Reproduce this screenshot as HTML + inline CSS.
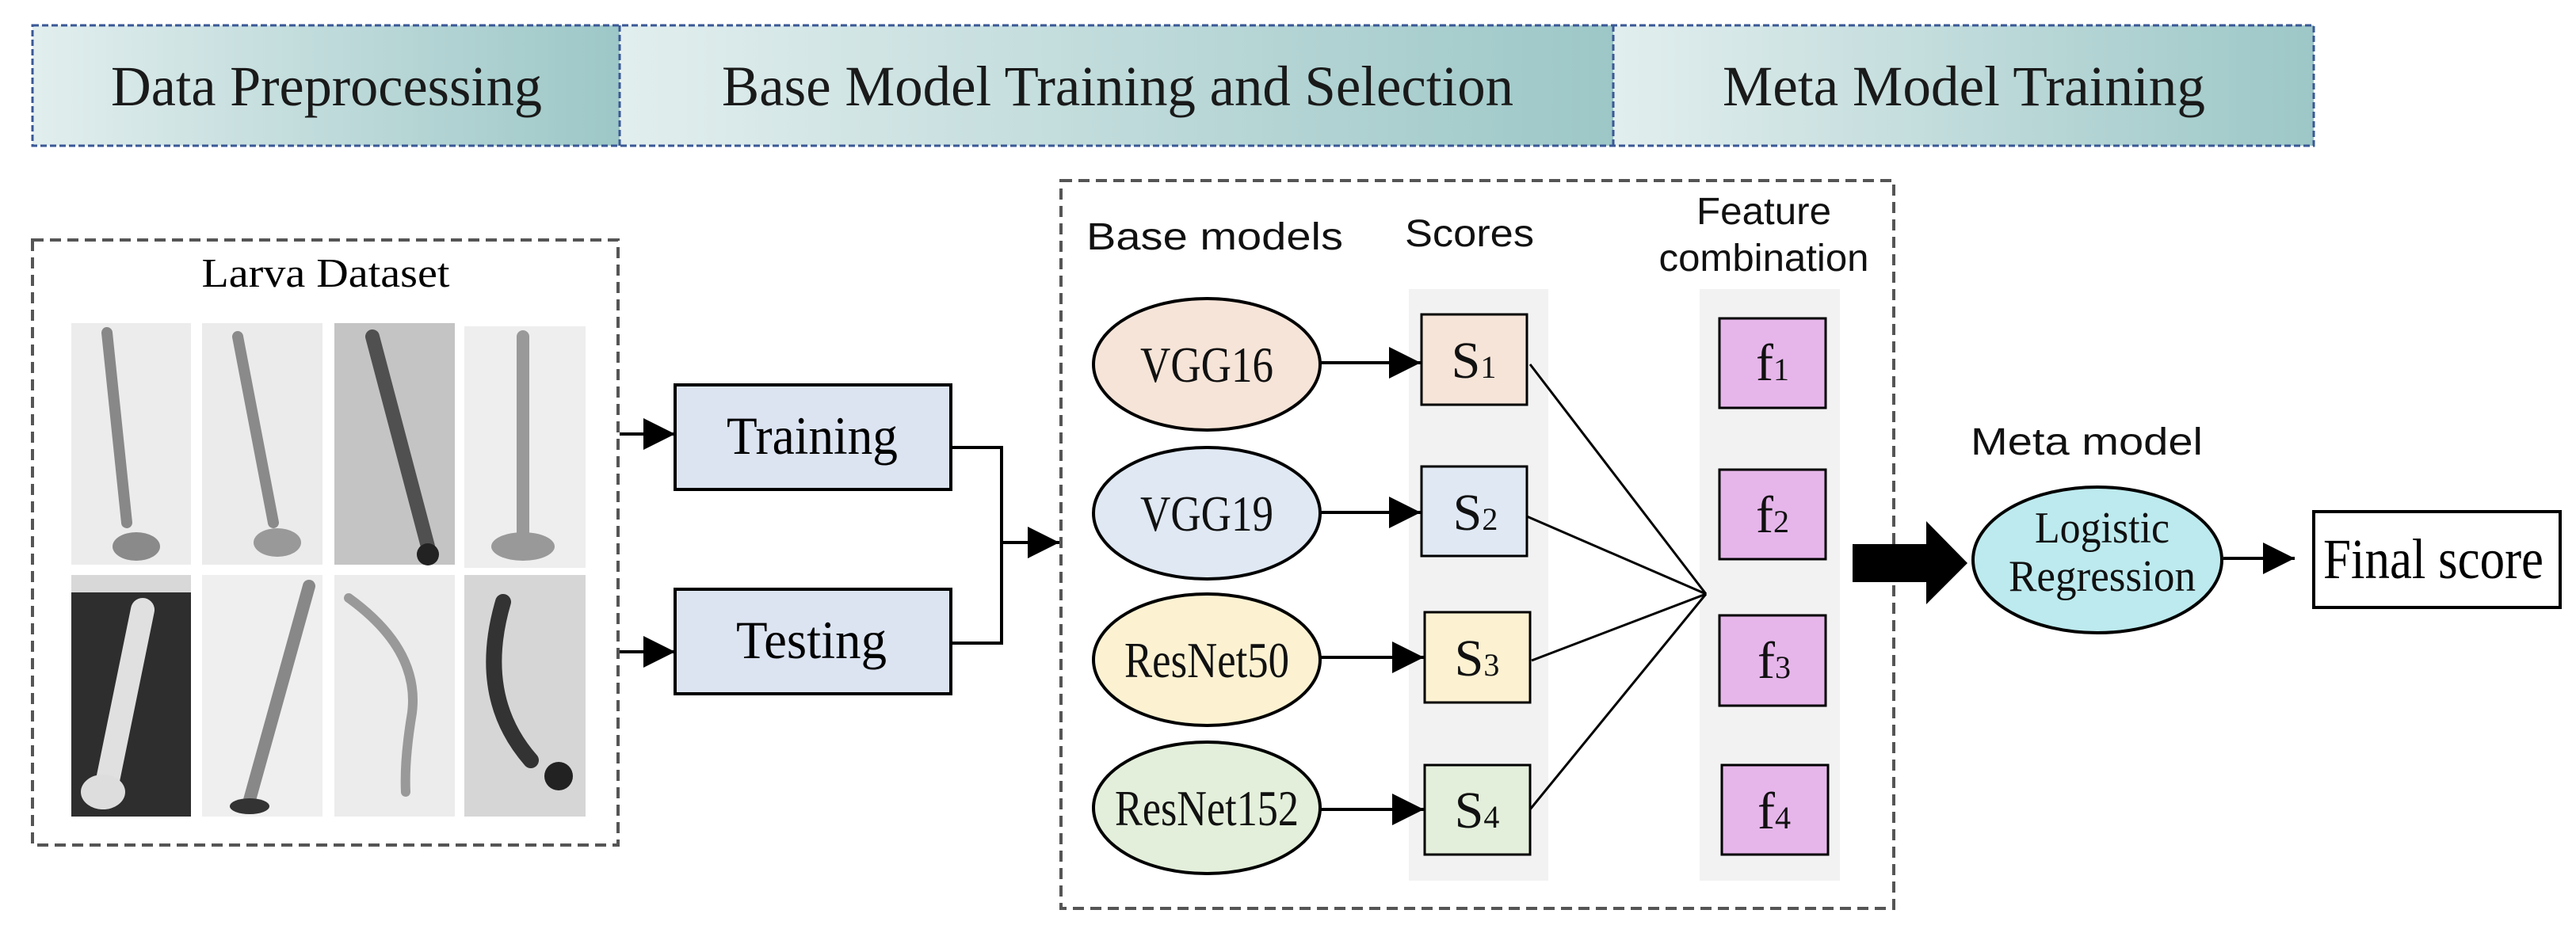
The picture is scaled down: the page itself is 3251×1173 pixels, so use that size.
<!DOCTYPE html>
<html><head><meta charset="utf-8"><style>html,body{margin:0;padding:0;background:#fff}svg{display:block}</style></head>
<body>
<svg width="3251" height="1173" viewBox="0 0 3251 1173" xmlns="http://www.w3.org/2000/svg">
<defs>
<linearGradient id="hg" x1="0" x2="1" y1="0" y2="0"><stop offset="0" stop-color="#e2eeee"/><stop offset="1" stop-color="#9dc7c7"/></linearGradient>
<marker id="ab" markerWidth="40" markerHeight="40" refX="36" refY="18" orient="auto" markerUnits="userSpaceOnUse" viewBox="0 0 36 36"><path d="M0,0L36,18L0,36z" fill="#000"/></marker>
</defs>
<g font-family="Liberation Serif, serif" fill="#1a1a1a">
<rect x="41" y="32" width="741" height="152" fill="url(#hg)"/>
<rect x="782" y="32" width="1254" height="152" fill="url(#hg)"/>
<rect x="2036" y="32" width="884" height="152" fill="url(#hg)"/>
<rect x="41" y="32" width="2879" height="152" fill="none" stroke="#3a5896" stroke-width="3" stroke-dasharray="8,4"/>
<line x1="782" y1="32" x2="782" y2="184" stroke="#3a5896" stroke-width="3" stroke-dasharray="8,4"/>
<line x1="2036" y1="32" x2="2036" y2="184" stroke="#3a5896" stroke-width="3" stroke-dasharray="8,4"/>
<text x="140" y="133" font-size="72" textLength="544" lengthAdjust="spacingAndGlyphs">Data Preprocessing</text>
<text x="911" y="133" font-size="72" textLength="999" lengthAdjust="spacingAndGlyphs">Base Model Training and Selection</text>
<text x="2174" y="133" font-size="72" textLength="609" lengthAdjust="spacingAndGlyphs">Meta Model Training</text>
</g>

<rect x="41" y="303" width="739" height="764" fill="none" stroke="#555" stroke-width="4" stroke-dasharray="14,8"/>
<text x="411" y="362" font-family="Liberation Serif, serif" font-size="52" text-anchor="middle" textLength="313" lengthAdjust="spacingAndGlyphs">Larva Dataset</text>
<g>
<rect x="90" y="408" width="151" height="305" fill="#ececec"/>
<rect x="255" y="408" width="152" height="305" fill="#ebebeb"/>
<rect x="422" y="408" width="152" height="305" fill="#c4c4c4"/>
<rect x="586" y="412" width="153" height="305" fill="#eeeeee"/>
<rect x="90" y="726" width="151" height="305" fill="#2e2e2e"/>
<rect x="90" y="726" width="151" height="22" fill="#d8d8d8"/>
<rect x="255" y="726" width="152" height="305" fill="#efefef"/>
<rect x="422" y="726" width="152" height="305" fill="#ececec"/>
<rect x="586" y="726" width="153" height="305" fill="#d6d6d6"/>
<g fill="none" stroke-linecap="round">
<path d="M135,420 L160,660" stroke="#888" stroke-width="14"/><ellipse cx="172" cy="690" rx="30" ry="18" fill="#8a8a8a"/>
<path d="M300,425 L345,660" stroke="#8a8a8a" stroke-width="14"/><ellipse cx="350" cy="685" rx="30" ry="18" fill="#999"/>
<path d="M470,425 L540,690" stroke="#505050" stroke-width="18"/><circle cx="540" cy="700" r="14" fill="#222"/>
<path d="M660,425 L660,680" stroke="#999" stroke-width="16"/><ellipse cx="660" cy="690" rx="40" ry="18" fill="#999"/>
<path d="M180,770 L135,990" stroke="#e0e0e0" stroke-width="30"/><ellipse cx="130" cy="1000" rx="28" ry="22" fill="#ddd"/>
<path d="M390,740 L315,1010" stroke="#888" stroke-width="16"/><ellipse cx="315" cy="1018" rx="25" ry="10" fill="#333"/>
<path d="M440,755 Q530,820 520,900 Q510,960 512,1000" stroke="#999" stroke-width="12"/>
<path d="M635,760 Q600,880 670,960" stroke="#333" stroke-width="20"/><circle cx="705" cy="980" r="18" fill="#222"/>
</g>
</g>

<g stroke="#000" stroke-width="4" fill="none">
<polyline points="1200,565 1264,565 1264,812 1200,812"/>
<line x1="782" y1="548" x2="852" y2="548" marker-end="url(#ab)"/>
<line x1="782" y1="823" x2="852" y2="823" marker-end="url(#ab)"/>
<line x1="1264" y1="685" x2="1337" y2="685" marker-end="url(#ab)"/>
</g>
<rect x="852" y="486" width="348" height="132" fill="#dce4f2" stroke="#000" stroke-width="4"/>
<rect x="852" y="744" width="348" height="132" fill="#dce4f2" stroke="#000" stroke-width="4"/>
<g font-family="Liberation Serif, serif" font-size="68" text-anchor="middle">
<text x="1025" y="573" textLength="216" lengthAdjust="spacingAndGlyphs">Training</text>
<text x="1024" y="831" textLength="190" lengthAdjust="spacingAndGlyphs">Testing</text>
</g>

<rect x="1339" y="228" width="1051" height="919" fill="none" stroke="#555" stroke-width="4" stroke-dasharray="14,8"/>
<rect x="1778" y="365" width="176" height="747" fill="#f2f2f2"/>
<rect x="2145" y="365" width="177" height="747" fill="#f2f2f2"/>
<g font-family="Liberation Sans, sans-serif" font-size="48" fill="#111">
<text x="1371" y="315" textLength="324" lengthAdjust="spacingAndGlyphs">Base models</text>
<text x="1773" y="311" textLength="163" lengthAdjust="spacingAndGlyphs">Scores</text>
<text x="2226" y="283" text-anchor="middle" textLength="170" lengthAdjust="spacingAndGlyphs">Feature</text>
<text x="2226" y="342" text-anchor="middle" textLength="265" lengthAdjust="spacingAndGlyphs">combination</text>
<text x="2487" y="574" textLength="293" lengthAdjust="spacingAndGlyphs">Meta model</text>
</g>

<g stroke="#000" stroke-width="4">
<ellipse cx="1523" cy="460" rx="143" ry="83" fill="#f6e4d8"/>
<ellipse cx="1523" cy="648" rx="143" ry="83" fill="#dfe8f3"/>
<ellipse cx="1523" cy="833" rx="143" ry="83" fill="#fcf2d2"/>
<ellipse cx="1523" cy="1020" rx="143" ry="83" fill="#e3efda"/>
<rect x="1794" y="397" width="133" height="114" fill="#f6e4d8" stroke-width="3"/>
<rect x="1794" y="589" width="133" height="113" fill="#dfe8f3" stroke-width="3"/>
<rect x="1798" y="773" width="133" height="114" fill="#fcf2d2" stroke-width="3"/>
<rect x="1798" y="966" width="133" height="113" fill="#e3efda" stroke-width="3"/>
<rect x="2170" y="402" width="134" height="113" fill="#e6b6ea" stroke-width="3"/>
<rect x="2170" y="593" width="134" height="113" fill="#e6b6ea" stroke-width="3"/>
<rect x="2170" y="777" width="134" height="114" fill="#e6b6ea" stroke-width="3"/>
<rect x="2173" y="966" width="134" height="113" fill="#e6b6ea" stroke-width="3"/>
</g>
<g stroke="#000" stroke-width="4" fill="none">
<line x1="1666" y1="458" x2="1793" y2="458" marker-end="url(#ab)"/>
<line x1="1666" y1="647" x2="1793" y2="647" marker-end="url(#ab)"/>
<line x1="1666" y1="830" x2="1797" y2="830" marker-end="url(#ab)"/>
<line x1="1666" y1="1022" x2="1797" y2="1022" marker-end="url(#ab)"/>
</g>
<g stroke="#000" stroke-width="3">
<line x1="1931" y1="460" x2="2153" y2="750"/>
<line x1="1927" y1="652" x2="2153" y2="750"/>
<line x1="1933" y1="834" x2="2153" y2="750"/>
<line x1="1931" y1="1022" x2="2153" y2="750"/>
</g>
<g font-family="Liberation Serif, serif" font-size="64" text-anchor="middle" fill="#111">
<text x="1523" y="482" textLength="168" lengthAdjust="spacingAndGlyphs">VGG16</text>
<text x="1523" y="670" textLength="168" lengthAdjust="spacingAndGlyphs">VGG19</text>
<text x="1523" y="855" textLength="208" lengthAdjust="spacingAndGlyphs">ResNet50</text>
<text x="1523" y="1042" textLength="232" lengthAdjust="spacingAndGlyphs">ResNet152</text>
</g>
<g font-family="Liberation Serif, serif" font-size="66" text-anchor="middle" fill="#111">
<text x="1860" y="477">S<tspan font-size="40">1</tspan></text>
<text x="1862" y="669">S<tspan font-size="40">2</tspan></text>
<text x="1864" y="853">S<tspan font-size="40">3</tspan></text>
<text x="1864" y="1045">S<tspan font-size="40">4</tspan></text>
<text x="2237" y="480">f<tspan font-size="40">1</tspan></text>
<text x="2237" y="672">f<tspan font-size="40">2</tspan></text>
<text x="2239" y="856">f<tspan font-size="40">3</tspan></text>
<text x="2239" y="1046">f<tspan font-size="40">4</tspan></text>
</g>

<path d="M2338,687 L2431,687 L2431,658 L2483,711 L2431,763 L2431,735 L2338,735 Z" fill="#000"/>
<ellipse cx="2647" cy="707" rx="157" ry="92" fill="#bdeaee" stroke="#000" stroke-width="4"/>
<g font-family="Liberation Serif, serif" font-size="56" text-anchor="middle" fill="#111">
<text x="2653" y="685" textLength="170" lengthAdjust="spacingAndGlyphs">Logistic</text>
<text x="2653" y="746" textLength="236" lengthAdjust="spacingAndGlyphs">Regression</text>
</g>
<line x1="2806" y1="705" x2="2896" y2="705" stroke="#000" stroke-width="4" marker-end="url(#ab)"/>
<rect x="2920" y="646" width="311" height="121" fill="#fff" stroke="#000" stroke-width="4"/>
<text x="3071" y="730" font-family="Liberation Serif, serif" font-size="72" text-anchor="middle" textLength="278" lengthAdjust="spacingAndGlyphs">Final score</text>
</svg>
</body></html>
